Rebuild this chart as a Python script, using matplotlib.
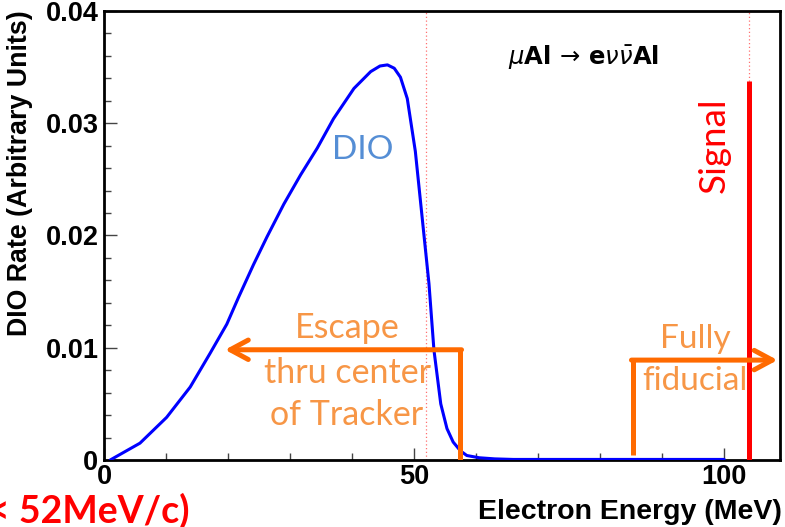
import matplotlib
matplotlib.use("Agg")
import matplotlib.pyplot as plt
from matplotlib.ticker import MultipleLocator, FixedLocator

# ---- data ----
energy = [1.0, 5.8, 10.1, 13.9, 17.1, 19.8, 21.7, 24.1, 26.3, 29.0, 31.7, 34.4,
          37.0, 40.3, 43.0, 44.5, 45.7, 46.8, 47.8, 48.9, 50.2, 51.3, 52.4, 53.2,
          54.3, 55.3, 56.3, 57.5, 58.5, 60.5, 63.0, 66.0, 100.0]
rate = [0.0, 0.0015, 0.0038, 0.0065, 0.0095, 0.0121, 0.0145, 0.0174, 0.0199,
        0.0228, 0.0254, 0.0278, 0.0304, 0.0331, 0.0346, 0.0351, 0.0352, 0.0349,
        0.0341, 0.0322, 0.0275, 0.0216, 0.0157, 0.0098, 0.0050, 0.0028, 0.0016,
        0.0008, 0.0004, 0.0002, 0.0001, 0.00005, 0.00005]
cut_energies = [52.0, 104.0]
signal_energy = 104.0
signal_height = 0.0338
x_ticks = [0, 50, 100]
x_tick_labels = ["0", "50", "100"]
y_ticks = [0, 0.01, 0.02, 0.03, 0.04]
y_tick_labels = ["0", "0.01", "0.02", "0.03", "0.04"]
escape_lines = ["Escape", "thru center", "of Tracker"]
fiducial_lines = ["Fully", "fiducial"]

W, H = 785, 527
fig = plt.figure(figsize=(W / 100, H / 100), dpi=100)
ax = fig.add_axes([104 / W, (H - 460) / H, (780 - 104) / W, (460 - 11) / H])
ax.set_xlim(0, 109)
ax.set_ylim(0, 0.04)

ORANGE = "#FF6A00"
ORANGE_TXT = "#F79646"

# dotted cut lines
for c in cut_energies:
    ax.axvline(c, color="#FF7070", lw=0.9, ls=(0, (1, 2)), zorder=1)

# DIO curve
ax.plot(energy, rate, color="#0000FF", lw=2.2, zorder=3,
        solid_joinstyle="round", solid_capstyle="round")

# signal line
ax.plot([signal_energy, signal_energy], [0, signal_height], color="#FF0000",
        lw=3.6, zorder=4, solid_capstyle="butt")

# orange arrows
esc_x, esc_y, esc_tip = 57.4, 0.00982, 19.5
ax.plot([esc_x, esc_x], [0, esc_y], color=ORANGE, lw=3.6, zorder=5, solid_capstyle="butt")
ax.annotate("", xy=(esc_tip, esc_y), xytext=(esc_x + 0.25, esc_y),
            arrowprops=dict(arrowstyle="->,head_length=0.65,head_width=0.35",
                            color=ORANGE, lw=3.6, mutation_scale=20,
                            shrinkA=0, shrinkB=0), zorder=5)
fid_x, fid_y, fid_bot, fid_tip = 85.3, 0.0089, 0.00045, 108.6
ax.plot([fid_x, fid_x], [fid_bot, fid_y], color=ORANGE, lw=3.6, zorder=5, solid_capstyle="butt")
ax.annotate("", xy=(fid_tip, fid_y), xytext=(fid_x - 0.25, fid_y),
            arrowprops=dict(arrowstyle="->,head_length=0.65,head_width=0.35",
                            color=ORANGE, lw=3.6, mutation_scale=20,
                            shrinkA=0, shrinkB=0), zorder=5, annotation_clip=False)

# axes style
for s in ["top", "right", "left", "bottom"]:
    ax.spines[s].set_linewidth(2.0)
ax.xaxis.set_major_locator(FixedLocator(x_ticks))
ax.set_xticklabels(x_tick_labels)
ax.xaxis.set_minor_locator(MultipleLocator(10))
ax.yaxis.set_major_locator(FixedLocator(y_ticks))
ax.set_yticklabels(y_tick_labels)
ax.yaxis.set_minor_locator(MultipleLocator(0.002))
ax.tick_params(which="both", direction="in", top=False, right=False, color="#444444")
ax.tick_params(which="major", length=9, width=1.0)
ax.tick_params(which="minor", length=5, width=1.0)
for lab in ax.get_xticklabels() + ax.get_yticklabels():
    lab.set_fontfamily("Liberation Sans")
    lab.set_fontweight("bold")
    lab.set_fontsize(19.5)
ax.tick_params(axis="x", pad=3)
ax.tick_params(axis="y", pad=4)

# labels
fig.text(782 / W, 1 - 512 / H, "Electron Energy (MeV)", ha="right", va="center",
         fontfamily="Liberation Sans", fontweight="bold", fontsize=20.5)
fig.text(20 / W, 1 - 10 / H, "DIO Rate (Arbitrary Units)", ha="center", va="top",
         rotation=90, fontfamily="Liberation Sans", fontweight="bold", fontsize=19.3)

# annotations text
fig.text(584 / W, 1 - 57 / H,
         r"$\mu\mathbf{Al}\,\rightarrow\,\mathbf{e}\nu\bar{\nu}\mathbf{Al}$",
         ha="center", va="center", fontsize=17.5, color="black")
fig.text(363 / W, 1 - 159 / H, "DIO", ha="center", va="baseline",
         fontfamily="Lato", fontsize=24, color="#558ED5")
fig.text(714 / W, 1 - 145 / H, "Signal", ha="center", va="center", rotation=90,
         fontfamily="Lato", fontsize=26.5, color="#FF0000")
for txt, yb in zip(escape_lines, [338, 383, 425]):
    fig.text(347 / W, 1 - yb / H, txt, ha="center", va="baseline",
             fontfamily="Lato", fontsize=24.5, color=ORANGE_TXT)
for txt, yb in zip(fiducial_lines, [348, 390]):
    fig.text(695 / W, 1 - yb / H, txt, ha="center", va="baseline",
             fontfamily="Lato", fontsize=24, color=ORANGE_TXT)
fig.text(190 / W, 1 - 523 / H, "< 52MeV/c)", ha="right", va="baseline",
         fontfamily="Lato", fontweight="bold", fontsize=27, color="#FF0000")

fig.savefig("out.png", dpi=100)
